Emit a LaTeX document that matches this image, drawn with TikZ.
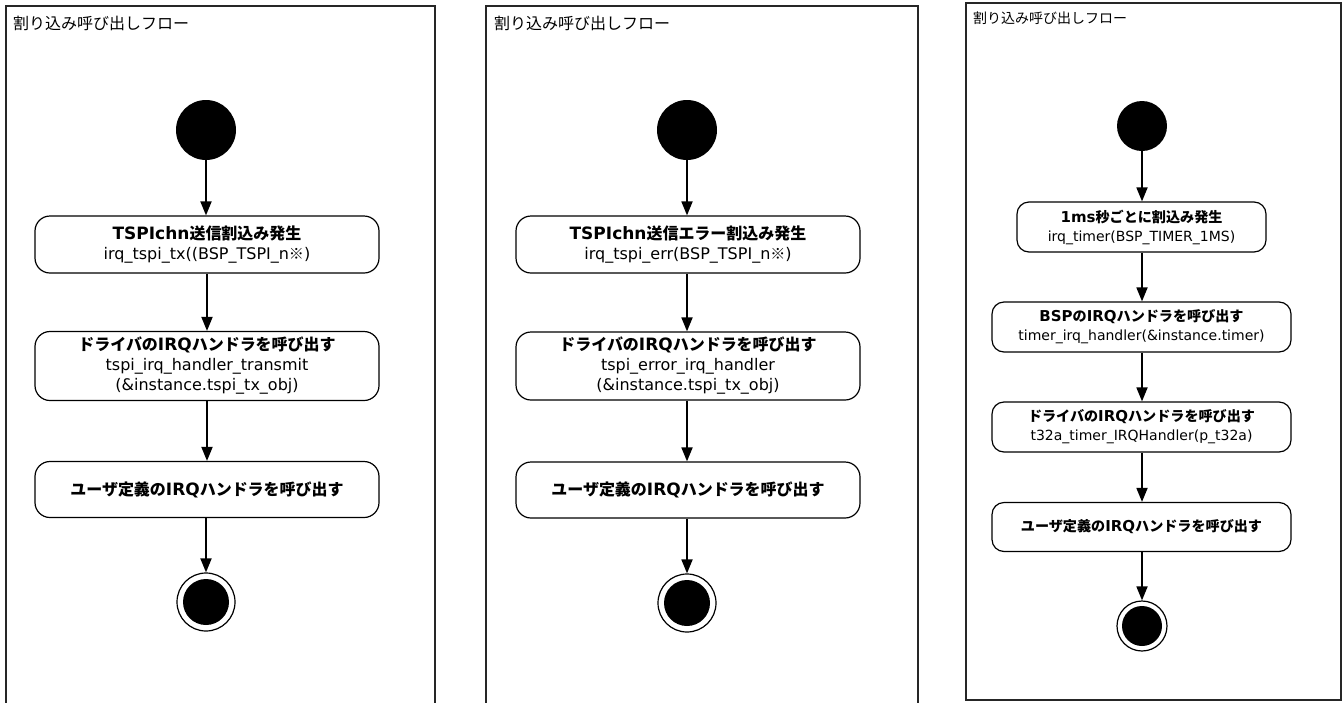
\documentclass[tikz,border=0pt]{standalone}
\usepackage{fontspec}
\setmainfont{DejaVu Sans}
\newfontfamily\jpfont{Noto Sans CJK JP}
\newfontfamily\jpinline[Scale=0.94]{Noto Sans CJK JP}
\newcommand{\ja}[1]{{\jpinline #1}}
\newcommand{\hd}[1]{{\fontsize{17}{20}\selectfont\bfseries #1}}
\newcommand{\hds}[1]{{\fontsize{15}{19}\selectfont\bfseries #1}}
\usetikzlibrary{arrows.meta}

\tikzset{
  panel/.style={draw=black!85, line width=2pt},
  paneltitle/.style={anchor=west, inner sep=0pt, font=\fontsize{16}{19}\selectfont\jpfont},
  startdot/.style={circle, fill=black, minimum size=60pt, inner sep=0pt},
  stopdot/.style={circle, draw=black, fill=white, line width=1.2pt, minimum size=58pt, inner sep=0pt,
    path picture={\fill[black] (path picture bounding box.center) circle (23pt);}},
  actbox/.style={draw=black, fill=white, rounded corners=15pt, line width=1.2pt,
    minimum width=344pt, align=center, inner sep=2pt, font=\fontsize{16}{20}\selectfont},
  smallbox/.style={actbox, rounded corners=12pt, font=\fontsize{14}{19}\selectfont},
  flow/.style={-{Triangle[length=14pt,width=11pt]}, line width=1.8pt},
}

\begin{document}
\begin{tikzpicture}[x=1pt, y=-1pt]
    \useasboundingbox (0,0) rectangle (1344,702);
    \clip (0,0) rectangle (1344,702);

    % Panel 1 (transmit interrupt)
    \draw[panel] (6,6) rectangle (435,720);
    \node[paneltitle] (t1) at (13,23) {割り込み呼び出しフロー};
    \node[startdot] (s1) at (206,130) {};
    \node[actbox, minimum height=57pt] (a1) at (207,244.5)
      {\hd{TSPIchn\ja{送信割込み発生}}\\irq\_tspi\_tx((BSP\_TSPI\_n\ja{※})};
    \node[actbox, minimum height=69pt] (a2) at (207,366)
      {\hd{\ja{ドライバの}IRQ\ja{ハンドラを呼び出す}}\\tspi\_irq\_handler\_transmit\\(\&instance.tspi\_tx\_obj)};
    \node[actbox, minimum height=56pt] (a3) at (207,489.5)
      {\hd{\ja{ユーザ定義の}IRQ\ja{ハンドラを呼び出す}}};
    \node[stopdot] (e1) at (206,602) {};
    \draw[flow] (s1) -- (s1 |- a1.north);
    \draw[flow] (a1) -- (a2);
    \draw[flow] (a2) -- (a3);
    \draw[flow] (a3.south -| e1) -- (e1);

    % Panel 2 (error interrupt)
    \draw[panel] (486,6) rectangle (918,720);
    \node[paneltitle] (t2) at (494,23) {割り込み呼び出しフロー};
    \node[startdot] (s2) at (687,130) {};
    \node[actbox, minimum height=57pt] (b1) at (688,244.5)
      {\hd{TSPIchn\ja{送信エラー割込み発生}}\\irq\_tspi\_err(BSP\_TSPI\_n\ja{※})};
    \node[actbox, minimum height=68pt] (b2) at (688,366)
      {\hd{\ja{ドライバの}IRQ\ja{ハンドラを呼び出す}}\\tspi\_error\_irq\_handler\\(\&instance.tspi\_tx\_obj)};
    \node[actbox, minimum height=56pt] (b3) at (688,490)
      {\hd{\ja{ユーザ定義の}IRQ\ja{ハンドラを呼び出す}}};
    \node[stopdot] (e2) at (687,603) {};
    \draw[flow] (s2) -- (s2 |- b1.north);
    \draw[flow] (b1.south -| s2) -- (s2 |- b2.north);
    \draw[flow] (b2.south -| s2) -- (s2 |- b3.north);
    \draw[flow] (b3.south -| e2) -- (e2);

    % Panel 3 (1ms timer interrupt)
    \draw[panel] (966,3) rectangle (1341,700);
    \node[paneltitle, font=\fontsize{14}{17}\selectfont\jpfont] (t3) at (973,18) {割り込み呼び出しフロー};
    \node[startdot, minimum size=50pt] (s3) at (1142,126) {};
    \node[smallbox, minimum width=249pt, minimum height=50pt] (c1) at (1141.5,227)
      {\hds{1ms\ja{秒ごとに割込み発生}}\\irq\_timer(BSP\_TIMER\_1MS)};
    \node[smallbox, minimum width=299pt, minimum height=50pt] (c2) at (1141.5,327)
      {\hds{BSP\ja{の}IRQ\ja{ハンドラを呼び出す}}\\timer\_irq\_handler(\&instance.timer)};
    \node[smallbox, minimum width=299pt, minimum height=50pt] (c3) at (1141.5,427)
      {\hds{\ja{ドライバの}IRQ\ja{ハンドラを呼び出す}}\\t32a\_timer\_IRQHandler(p\_t32a)};
    \node[smallbox, minimum width=299pt, minimum height=49pt] (c4) at (1141.5,527)
      {\hds{\ja{ユーザ定義の}IRQ\ja{ハンドラを呼び出す}}};
    \node[stopdot, minimum size=50pt,
      path picture={\fill[black] (path picture bounding box.center) circle (20pt);}] (e3) at (1142,626) {};
    \draw[flow] (s3) -- (s3 |- c1.north);
    \draw[flow] (c1.south -| s3) -- (s3 |- c2.north);
    \draw[flow] (c2.south -| s3) -- (s3 |- c3.north);
    \draw[flow] (c3.south -| s3) -- (s3 |- c4.north);
    \draw[flow] (c4.south -| e3) -- (e3);
\end{tikzpicture}
\end{document}
